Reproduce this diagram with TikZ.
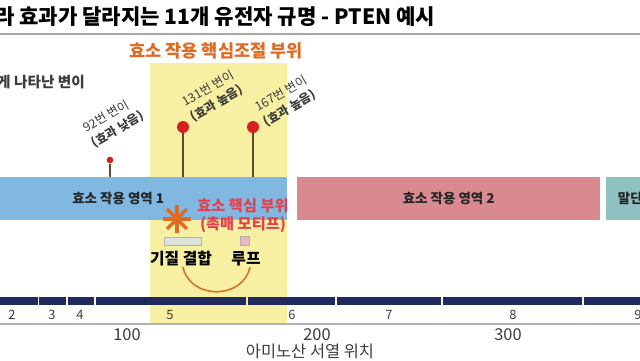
\documentclass[tikz,border=0pt]{standalone}
\usepackage{fontspec}
\setmainfont{Noto Sans CJK KR}
\definecolor{hlyellow}{HTML}{F7EFA2}
\definecolor{dombluec}{HTML}{80B8E2}
\definecolor{dompinkc}{HTML}{D98A8F}
\definecolor{domtealc}{HTML}{8FC1C0}
\definecolor{exonnavy}{HTML}{1F2A5E}
\definecolor{headorange}{HTML}{E06A22}
\definecolor{motifred}{HTML}{E2404C}
\definecolor{stemc}{HTML}{5A4A30}
\definecolor{dotred}{HTML}{D81E1E}
\definecolor{arcorange}{HTML}{D4742C}
\definecolor{txtgray}{HTML}{3C3C3C}
\begin{document}
\begin{tikzpicture}[x=0.03cm, y=-0.03cm, every node/.style={inner sep=0pt},
  dombar/.style={anchor=north west, minimum height=1.29cm, font=\fontsize{11.5}{13}\selectfont\bfseries, text=black!85},
  mutlabel/.style={anchor=south west, rotate=30, align=left, font=\fontsize{10.5}{14.5}\selectfont, text=txtgray},
  mutdot/.style={circle, fill=dotred},
  exonnum/.style={font=\fontsize{11}{13}\selectfont, text=txtgray},
  axisnum/.style={font=\fontsize{14}{16}\selectfont, text=txtgray}]
  \useasboundingbox (0,0) rectangle (640,360);
  % title
  \node[anchor=west, font=\fontsize{18}{20}\selectfont\bfseries] (title) at (-5,17) {라 효과가 달라지는 11개 유전자 규명 - PTEN 예시};
  \draw[gray!70, line width=2pt] (0,34) -- (640,34);
  % highlighted region
  \fill[hlyellow] (150,63) rectangle (287,323);
  \node[font=\fontsize{15}{17}\selectfont\bfseries, text=headorange] (core) at (216,51) {효소 작용 핵심조절 부위};
  \node[anchor=west, font=\fontsize{12.5}{14}\selectfont\bfseries, text=txtgray] (legend) at (-3,82) {게 나타난 변이};
  % domains
  \node[dombar, fill=dombluec, minimum width=10.14cm] (dom1) at (-51,177) {효소 작용 영역 1};
  \node[dombar, fill=dompinkc, minimum width=9.09cm] (dom2) at (297,177) {효소 작용 영역 2};
  \node[dombar, fill=domtealc, minimum width=1.5cm, text width=1.2cm, align=left] (dom3) at (606,177) {\hspace{0.2cm}말단};
  % mutations
  \node[mutdot, minimum size=0.2cm] (m92) at (110,160) {};
  \node[mutdot, minimum size=0.36cm] (m131) at (183,127) {};
  \node[mutdot, minimum size=0.36cm] (m167) at (253,127) {};
  \foreach \m in {m92,m131,m167}
    \draw[stemc, line width=1pt] (\m) -- (\m |- dom1.north);
  \node[mutlabel] (l92) at (96,150) {92번 변이\\\textbf{(효과 낮음)}};
  \node[mutlabel] (l131) at (195,124) {131번 변이\\\textbf{(효과 높음)}};
  \node[mutlabel] (l167) at (268,129) {167번 변이\\\textbf{(효과 높음)}};
  % catalytic motif
  \node (star) at (177,219) {};
  \foreach \a in {0,45,90,135}
    \draw[headorange, line width=3pt] (star) ++(\a:14) -- ++(\a+180:28);
  \node[align=center, font=\fontsize{13}{15.5}\selectfont\bfseries, text=motifred] (motif) at (243,216) {효소 핵심 부위\\(촉매 모티프)};
  \node[draw=gray!60, fill=green!10!gray!25, minimum width=1.1cm, minimum height=0.24cm] (subbox) at (183,241) {};
  \node[draw=gray!60, fill=dompinkc!60, minimum size=0.27cm] (loopbox) at (245,241) {};
  \node[font=\fontsize{13.5}{16}\selectfont\bfseries] (sublabel) at (181,259) {기질 결합};
  \node[font=\fontsize{13.5}{16}\selectfont\bfseries] (looplabel) at (246,259) {루프};
  \coordinate (arcl) at (183,267);
  \coordinate (arcr) at (250,267);
  \draw[arcorange, line width=1.4pt] (arcl) .. controls (190,300) and (243,300) .. (arcr);
  % exons
  \foreach \xa/\xb in {-10/38, 39/66, 68/94, 96/246, 248/335, 337/441, 443/582, 584/660}
    \fill[exonnavy] (\xa,297) rectangle (\xb,305);
  \foreach \x/\n in {12/2, 52/3, 80/4, 170/5, 292/6, 389/7, 513/8, 638/9}
    \node[exonnum] (ex\n) at (\x,315) {\n};
  \draw[gray!60, line width=1.6pt] (0,324) -- (640,324);
  \foreach \x/\n in {127/100, 317/200, 508/300}
    \node[axisnum] (ax\n) at (\x,335) {\n};
  \node[font=\fontsize{14}{16}\selectfont, text=txtgray] (axtitle) at (310,351) {아미노산 서열 위치};
\end{tikzpicture}
\end{document}
